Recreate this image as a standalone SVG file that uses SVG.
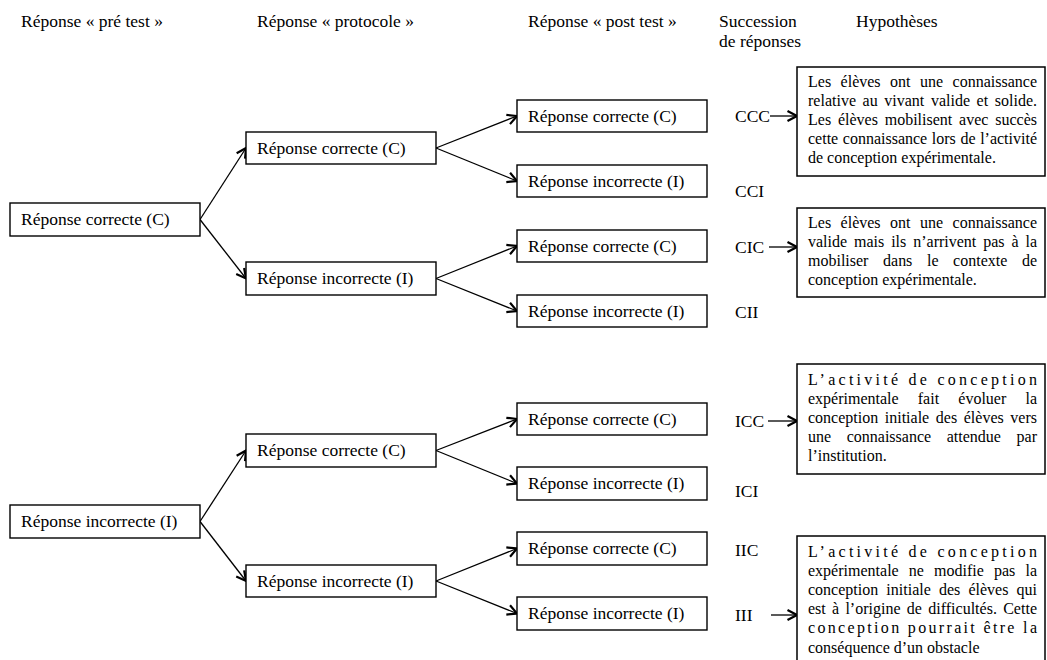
<svg xmlns="http://www.w3.org/2000/svg" width="1047" height="660" viewBox="0 0 1047 660">
<defs>
<style>
text{font-family:"Liberation Serif","Times New Roman",serif;fill:#000}
.h{font-size:17.5px}
.t{font-size:17.5px}
.lb{font-size:17.5px}
.p{font-size:16px}
.box{fill:#fff;stroke:#000;stroke-width:1.4}
.hyp{fill:#fff;stroke:#000;stroke-width:1.5}
.ln{stroke:#000;stroke-width:1.3;fill:none;marker-end:url(#ah)}
</style>
<marker id="ah" markerUnits="userSpaceOnUse" markerWidth="14" markerHeight="14" viewBox="-12 -7 13 14" refX="0" refY="0" orient="auto">
<path d="M-9.5,-5 L0,0 L-9.5,5" fill="none" stroke="#000" stroke-width="2.2" stroke-linejoin="miter"/>
</marker>
</defs>
<rect width="1047" height="660" fill="#fff"/>

<g id="headers">
<text class="h" x="21" y="27">Réponse « pré test »</text>
<text class="h" x="257" y="27">Réponse « protocole »</text>
<text class="h" x="528" y="27">Réponse « post test »</text>
<text class="h" x="719" y="27">Succession</text>
<text class="h" x="719" y="47">de réponses</text>
<text class="h" x="856" y="27">Hypothèses</text>
</g>

<g id="connectors">
<line class="ln" x1="200" y1="219.5" x2="246" y2="148"/>
<line class="ln" x1="200" y1="219.5" x2="246" y2="278.5"/>
<line class="ln" x1="436" y1="148" x2="517" y2="116"/>
<line class="ln" x1="436" y1="148" x2="517" y2="181"/>
<line class="ln" x1="436" y1="278.5" x2="517" y2="246"/>
<line class="ln" x1="436" y1="278.5" x2="517" y2="311"/>
<line class="ln" x1="200" y1="521.5" x2="246" y2="450.5"/>
<line class="ln" x1="200" y1="521.5" x2="246" y2="581"/>
<line class="ln" x1="436" y1="450.5" x2="517" y2="419"/>
<line class="ln" x1="436" y1="450.5" x2="517" y2="483.5"/>
<line class="ln" x1="436" y1="581" x2="517" y2="548.5"/>
<line class="ln" x1="436" y1="581" x2="517" y2="613.5"/>
<line class="ln" x1="770" y1="116" x2="797" y2="116"/>
<line class="ln" x1="769" y1="247" x2="797" y2="247"/>
<line class="ln" x1="768" y1="421" x2="797" y2="421"/>
<line class="ln" x1="771" y1="615" x2="797" y2="615"/>
</g>

<g id="pre-C"><rect class="box" x="10" y="203" width="190" height="33"/><text class="t" x="21" y="225">Réponse correcte (C)</text></g>
<g id="pre-I"><rect class="box" x="10" y="505" width="190" height="33"/><text class="t" x="21" y="527">Réponse incorrecte (I)</text></g>

<g id="proto-CC"><rect class="box" x="246" y="132" width="190" height="32"/><text class="t" x="257" y="154">Réponse correcte (C)</text></g>
<g id="proto-CI"><rect class="box" x="246" y="262" width="190" height="33"/><text class="t" x="257" y="284">Réponse incorrecte (I)</text></g>
<g id="proto-IC"><rect class="box" x="246" y="434" width="190" height="33"/><text class="t" x="257" y="456">Réponse correcte (C)</text></g>
<g id="proto-II"><rect class="box" x="246" y="565" width="190" height="32"/><text class="t" x="257" y="587">Réponse incorrecte (I)</text></g>

<g id="post-CCC"><rect class="box" x="517" y="100" width="190" height="32"/><text class="t" x="528" y="122">Réponse correcte (C)</text></g>
<g id="post-CCI"><rect class="box" x="517" y="165" width="190" height="32"/><text class="t" x="528" y="187">Réponse incorrecte (I)</text></g>
<g id="post-CIC"><rect class="box" x="517" y="230" width="190" height="32"/><text class="t" x="528" y="252">Réponse correcte (C)</text></g>
<g id="post-CII"><rect class="box" x="517" y="295" width="190" height="32"/><text class="t" x="528" y="317">Réponse incorrecte (I)</text></g>
<g id="post-ICC"><rect class="box" x="517" y="403" width="190" height="32"/><text class="t" x="528" y="425">Réponse correcte (C)</text></g>
<g id="post-ICI"><rect class="box" x="517" y="467" width="190" height="33"/><text class="t" x="528" y="489">Réponse incorrecte (I)</text></g>
<g id="post-IIC"><rect class="box" x="517" y="532" width="190" height="33"/><text class="t" x="528" y="554">Réponse correcte (C)</text></g>
<g id="post-III"><rect class="box" x="517" y="597" width="190" height="33"/><text class="t" x="528" y="619">Réponse incorrecte (I)</text></g>

<g id="labels">
<text class="lb" x="735" y="122">CCC</text>
<text class="lb" x="735" y="197">CCI</text>
<text class="lb" x="735" y="253">CIC</text>
<text class="lb" x="735" y="318">CII</text>
<text class="lb" x="735" y="427">ICC</text>
<text class="lb" x="735" y="497">ICI</text>
<text class="lb" x="735" y="556">IIC</text>
<text class="lb" x="735" y="621">III</text>
</g>

<g id="hyp-1">
<rect class="hyp" x="797" y="67" width="248" height="109"/>
<text class="p" x="808" y="87" word-spacing="5.5" textLength="229" lengthAdjust="spacing">Les élèves ont une connaissance</text>
<text class="p" x="808" y="106" word-spacing="2.6" textLength="229" lengthAdjust="spacing">relative au vivant valide et solide.</text>
<text class="p" x="808" y="125" word-spacing="2.8" textLength="229" lengthAdjust="spacing">Les élèves mobilisent avec succès</text>
<text class="p" x="808" y="144" word-spacing="0.6" textLength="229" lengthAdjust="spacing">cette connaissance lors de l’activité</text>
<text class="p" x="808" y="163">de conception expérimentale.</text>
</g>

<g id="hyp-2">
<rect class="hyp" x="797" y="208" width="248" height="89"/>
<text class="p" x="808" y="228" word-spacing="5.5" textLength="229" lengthAdjust="spacing">Les élèves ont une connaissance</text>
<text class="p" x="808" y="247" word-spacing="2.9" textLength="229" lengthAdjust="spacing">valide mais ils n’arrivent pas à la</text>
<text class="p" x="808" y="266" word-spacing="10.6" textLength="229" lengthAdjust="spacing">mobiliser dans le contexte de</text>
<text class="p" x="808" y="285">conception expérimentale.</text>
</g>

<g id="hyp-3">
<rect class="hyp" x="797" y="364" width="248" height="110"/>
<text class="p" x="808" y="385" textLength="229" lengthAdjust="spacing">L’activité de conception</text>
<text class="p" x="808" y="404" word-spacing="15.2" textLength="229" lengthAdjust="spacing">expérimentale fait évoluer la</text>
<text class="p" x="808" y="423" word-spacing="2.6" textLength="229" lengthAdjust="spacing">conception initiale des élèves vers</text>
<text class="p" x="808" y="442" word-spacing="11.6" textLength="229" lengthAdjust="spacing">une connaissance attendue par</text>
<text class="p" x="808" y="461">l’institution.</text>
</g>

<g id="hyp-4">
<rect class="hyp" x="797" y="536" width="248" height="140"/>
<text class="p" x="808" y="557" textLength="229" lengthAdjust="spacing">L’activité de conception</text>
<text class="p" x="808" y="576" word-spacing="6.1" textLength="229" lengthAdjust="spacing">expérimentale ne modifie pas la</text>
<text class="p" x="808" y="595" word-spacing="4.1" textLength="229" lengthAdjust="spacing">conception initiale des élèves qui</text>
<text class="p" x="808" y="614" word-spacing="2.2" textLength="229" lengthAdjust="spacing">est à l’origine de difficultés. Cette</text>
<text class="p" x="808" y="633" textLength="229" lengthAdjust="spacing">conception pourrait être la</text>
<text class="p" x="808" y="653">conséquence d’un obstacle</text>
</g>
</svg>
